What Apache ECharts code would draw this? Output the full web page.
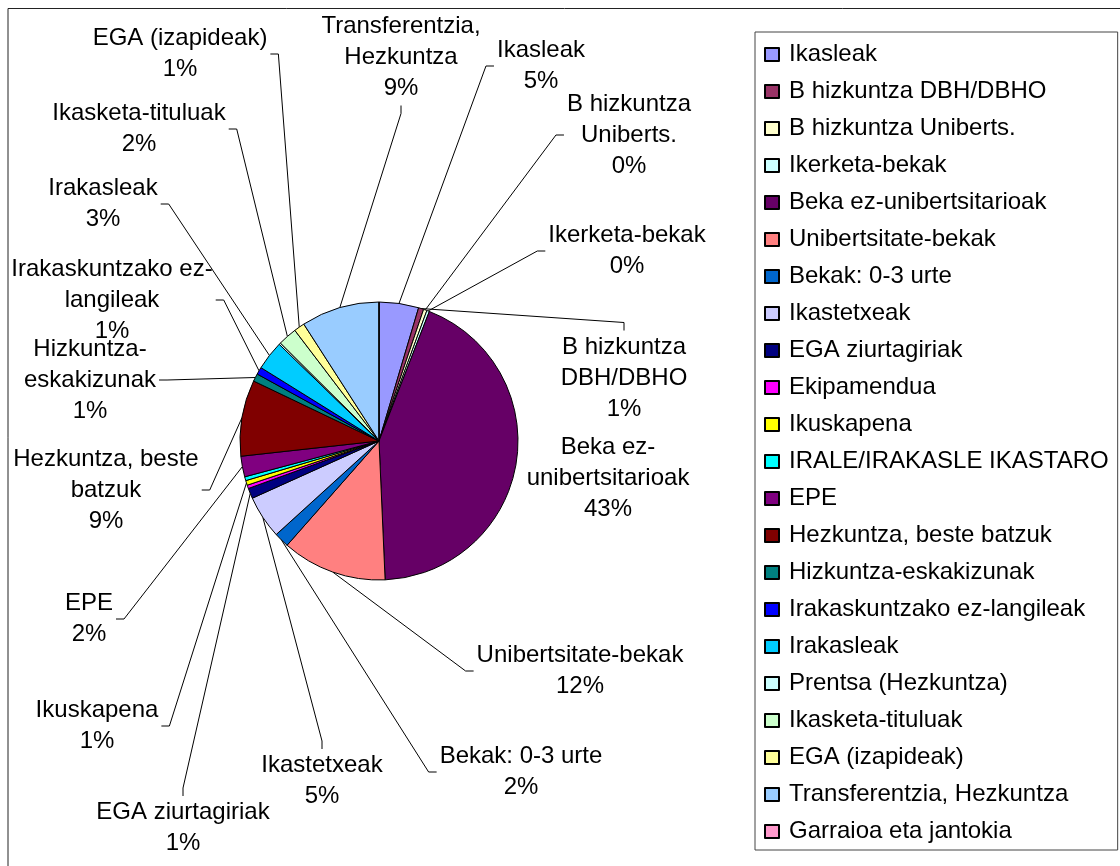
<!DOCTYPE html>
<html>
<head>
<meta charset="utf-8">
<script src="https://cdn.jsdelivr.net/npm/echarts/dist/echarts.min.js"></script>
<style>
  html, body { margin: 0; padding: 0; background: #fff; }
  #chart { width: 1120px; height: 866px; }
</style>
</head>
<body>
<div id="chart"></div>
<script>
const categories = [
    'Ikasleak', 'B hizkuntza DBH/DBHO', 'B hizkuntza Uniberts.', 'Ikerketa-bekak',
    'Beka ez-unibertsitarioak', 'Unibertsitate-bekak', 'Bekak: 0-3 urte', 'Ikastetxeak',
    'EGA ziurtagiriak', 'Ekipamendua', 'Ikuskapena', 'IRALE/IRAKASLE IKASTARO', 'EPE',
    'Hezkuntza, beste batzuk', 'Hizkuntza-eskakizunak', 'Irakaskuntzako ez-langileak',
    'Irakasleak', 'Prentsa (Hezkuntza)', 'Ikasketa-tituluak', 'EGA (izapideak)',
    'Transferentzia, Hezkuntza', 'Garraioa eta jantokia'
];
// share of the total, in percent
const values = [
    4.6, 0.6, 0.4, 0.3,
    43.4, 12.2, 1.75, 5.0,
    1.2, 0.4, 0.55, 0.45, 2.4,
    8.85, 0.9, 0.85,
    3.4, 0.2, 2.2, 1.25,
    9.1, 0
];
// wrapped slice labels as they appear next to the pie (null = no label)
const labelNames = [
    'Ikasleak', 'B hizkuntza\nDBH/DBHO', 'B hizkuntza\nUniberts.', 'Ikerketa-bekak',
    'Beka ez-\nunibertsitarioak', 'Unibertsitate-bekak', 'Bekak: 0-3 urte', 'Ikastetxeak',
    'EGA ziurtagiriak', null, 'Ikuskapena', null, 'EPE',
    'Hezkuntza, beste\nbatzuk', 'Hizkuntza-\neskakizunak', 'Irakaskuntzako ez-\nlangileak',
    'Irakasleak', null, 'Ikasketa-tituluak', 'EGA (izapideak)',
    'Transferentzia,\nHezkuntza', null
];
const colors = [
    '#9999FF', '#993366', '#FFFFCC', '#CCFFFF',
    '#660066', '#FF8080', '#0066CC', '#CCCCFF',
    '#000080', '#FF00FF', '#FFFF00', '#00FFFF', '#800080',
    '#800000', '#008080', '#0000FF',
    '#00CCFF', '#CCFFFF', '#CCFFCC', '#FFFF99',
    '#99CCFF', '#FF99CC'
];

// where the labels were dragged to (centre of each text block)
const labelPos = [
    [541, 66], [624, 378], [629, 135], [627, 251],
    [608, 478], [580, 671], [521, 772], [322, 781],
    [183, 828], null, [97, 726], null, [89, 619],
    [106, 490], [90, 380], [112, 300],
    [103, 204], null, [139, 129], [180, 54],
    [401, 57], null
];
// which side of the label the leader line meets (l, r, t, b; '' = no line)
const labelSide = [
    'l', 't', 'l', 'l',
    '', 'l', 'l', 't',
    't', '', 'r', '', 'r',
    'r', 'r', 'r',
    'r', '', 'r', 'r',
    'b', ''
];

const font = 'Arial, "Liberation Sans", sans-serif';
const elbow = 8;

let chartDom = document.getElementById('chart');
let myChart = echarts.init(chartDom);

let pieData = [];
for (let i = 0; i < categories.length; i++) {
    let item = {
        name: categories[i],
        value: values[i],
        itemStyle: { color: colors[i] }
    };
    if (labelNames[i] === null) {
        item.label = { show: false };
        item.labelLine = { show: false };
    }
    if (labelSide[i] === '') {
        item.labelLine = { show: false };
    }
    pieData.push(item);
}

function leaderLine(params, pos, side) {
    let pts = params.labelLinePoints;
    if (!pts || !side) {
        return null;
    }
    let w = params.labelRect.width;
    let h = params.labelRect.height;
    let start = pts[0];
    let end, mid;
    if (side === 'l') {
        end = [pos[0] - w / 2 - 3, pos[1]];
        mid = [end[0] - elbow, end[1]];
    } else if (side === 'r') {
        end = [pos[0] + w / 2 + 3, pos[1]];
        mid = [end[0] + elbow, end[1]];
    } else if (side === 't') {
        end = [pos[0], pos[1] - h / 2 - 1];
        mid = [end[0], end[1] - elbow];
    } else {
        end = [pos[0], pos[1] + h / 2 + 2];
        mid = [end[0], end[1] + elbow];
    }
    return [start, mid, end];
}

let option = {
    animation: false,
    backgroundColor: '#fff',
    textStyle: { fontFamily: font },
    graphic: [{
        type: 'rect',
        shape: { x: 8, y: 8.5, width: 1200, height: 1000 },
        style: { fill: 'none', stroke: '#222', lineWidth: 1 },
        silent: true
    }],
    legend: {
        orient: 'vertical',
        left: 755,
        top: 32,
        padding: [4, 9, 0, 9],
        itemGap: 0,
        itemWidth: 14,
        itemHeight: 13,
        icon: 'rect',
        borderColor: '#444',
        borderWidth: 1,
        backgroundColor: '#fff',
        data: categories,
        textStyle: {
            fontFamily: font,
            fontSize: 24,
            lineHeight: 37,
            color: '#000',
            padding: [0, 0, 0, 5]
        }
    },
    series: [{
        type: 'pie',
        center: [379, 441],
        radius: 139,
        startAngle: 90,
        clockwise: true,
        avoidLabelOverlap: false,
        data: pieData,
        itemStyle: { borderColor: '#000', borderWidth: 1 },
        emphasis: { disabled: true },
        label: {
            show: true,
            position: 'outside',
            fontFamily: font,
            fontSize: 24,
            lineHeight: 31,
            color: '#000',
            align: 'center',
            formatter: function (p) {
                return labelNames[p.dataIndex] + '\n' + Math.round(p.percent) + '%';
            }
        },
        labelLine: {
            show: true,
            length: 10,
            length2: 8,
            smooth: false,
            lineStyle: { color: '#000', width: 1 }
        },
        labelLayout: function (params) {
            let pos = labelPos[params.dataIndex];
            if (!pos) {
                return {};
            }
            let result = {
                x: pos[0],
                y: pos[1],
                align: 'center',
                verticalAlign: 'middle'
            };
            let line = leaderLine(params, pos, labelSide[params.dataIndex]);
            if (line) {
                result.labelLinePoints = line;
            }
            return result;
        }
    }]
};
option && myChart.setOption(option);
</script>
</body>
</html>
